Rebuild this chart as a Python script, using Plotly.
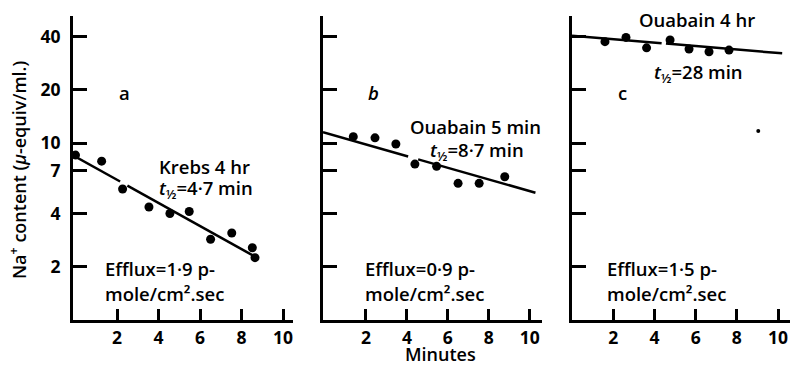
import plotly.graph_objects as go
import math

W, H = 790, 365

# ---- data ----
a_time = [0.0, 1.26, 2.27, 3.54, 4.55, 5.48, 6.51, 7.53, 8.52, 8.65]
a_na = [8.55, 7.9, 5.5, 4.35, 4.0, 4.1, 2.86, 3.1, 2.56, 2.25]
a_fit_time = [-0.1, 2.15, None, 2.5, 8.65]
a_fit_na = [8.5, 6.06, None, 5.75, 2.28]

b_time = [1.38, 2.44, 3.46, 4.39, 5.45, 6.5, 7.53, 8.78]
b_na = [10.86, 10.7, 9.87, 7.6, 7.38, 5.92, 5.92, 6.45]
b_fit_time = [-0.1, 4.06, None, 4.55, 10.28]
b_fit_na = [11.5, 8.39, None, 8.08, 5.24]

c_time = [1.6, 2.62, 3.62, 4.76, 5.68, 6.65, 7.62]
c_na = [37.4, 39.5, 34.5, 38.2, 34.0, 32.8, 33.5]
c_fit_time = [0.0, 4.35, None, 4.56, 10.2]
c_fit_na = [40.4, 36.6, None, 36.5, 32.1]
c_speck_time = [9.04]
c_speck_na = [11.7]

y_ticks = [2, 4, 7, 10, 20, 40]
x_ticks = [2, 4, 6, 8, 10]

FONT = "Open Sans"

def px(x):
    return x / W

def py(y):
    return 1 - y / H

fig = go.Figure()

panels = [
    ("x", "y", a_time, a_na, a_fit_time, a_fit_na),
    ("x2", "y2", b_time, b_na, b_fit_time, b_fit_na),
    ("x3", "y3", c_time, c_na, c_fit_time, c_fit_na),
]
for xa, ya, t, v, ft, fv in panels:
    fig.add_trace(go.Scatter(x=ft, y=fv, mode="lines", xaxis=xa, yaxis=ya, connectgaps=False,
                             line=dict(color="black", width=2.5), showlegend=False))
    fig.add_trace(go.Scatter(x=t, y=v, mode="markers", xaxis=xa, yaxis=ya,
                             marker=dict(color="black", size=9), showlegend=False))
fig.add_trace(go.Scatter(x=c_speck_time, y=c_speck_na, mode="markers", xaxis="x3", yaxis="y3",
                         marker=dict(color="black", size=4), showlegend=False))

ydom = [py(320), py(16)]
yrange = [0, math.log10(52.2)]

xdoms = [[px(73), px(293.4)], [px(323), px(542)], [px(572), 1.0]]
xranges = [[-0.12, 10.5], [-0.1, 10.6], [0, 10.58]]

tickfont = dict(family=FONT, size=17.5, color="black", weight="bold")
common_x = dict(showline=True, linecolor="black", linewidth=3, ticks="inside", ticklen=11,
                tickwidth=2.5, tickcolor="black", tickvals=x_ticks, showgrid=False,
                zeroline=False, tickfont=tickfont, ticklabelstandoff=0)
common_y = dict(type="log", showline=True, linecolor="black", linewidth=3, ticks="inside",
                ticklen=14, tickwidth=2.5, tickcolor="black", tickvals=y_ticks,
                ticktext=[str(v) for v in y_ticks], showgrid=False, zeroline=False,
                range=yrange, domain=ydom, tickfont=tickfont)

layout = dict(width=W, height=H, margin=dict(l=0, r=0, t=0, b=0),
              plot_bgcolor="white", paper_bgcolor="white")
for i, (name_x, name_y) in enumerate([("xaxis", "yaxis"), ("xaxis2", "yaxis2"), ("xaxis3", "yaxis3")]):
    anchor_y = "y" if i == 0 else f"y{i+1}"
    anchor_x = "x" if i == 0 else f"x{i+1}"
    layout[name_x] = dict(common_x, domain=xdoms[i], range=xranges[i], anchor=anchor_y)
    layout[name_y] = dict(common_y, anchor=anchor_x, showticklabels=(i == 0), ticklabelstandoff=6)

fig.update_layout(**layout)

ann = []
def text(s, x, y, anchor="left", size=18.5, italic=False, weight=600):
    ann.append(dict(text=s, x=px(x), y=py(y), xref="paper", yref="paper", xanchor=anchor,
                    yanchor="middle", showarrow=False,
                    font=dict(family=FONT, size=size, color="black", weight=weight,
                              style="italic" if italic else "normal")))

# panel a
text("a", 124, 93, anchor="center")
text("Krebs 4 hr", 157, 166)
text("<i>t</i><sub>½</sub>=4·7 min", 157, 189)
text("Efflux=1·9 p-", 103, 268)
text("mole/cm².sec", 103, 293)
# panel b
text("b", 373, 93, anchor="center", italic=True)
text("Ouabain 5 min", 408, 126)
text("<i>t</i><sub>½</sub>=8·7 min", 428, 151)
text("Efflux=0·9 p-", 363, 268)
text("mole/cm².sec", 363, 293)
# panel c
text("Ouabain 4 hr", 637, 19)
text("<i>t</i><sub>½</sub>=28 min", 652, 73)
text("c", 622, 93, anchor="center")
text("Efflux=1·5 p-", 605, 268)
text("mole/cm².sec", 605, 293)
# axis titles
text("Minutes", 440, 354, anchor="center", size=18)
ann.append(dict(text="Na<sup>+</sup> content (<i>μ</i>-equiv/ml.)", x=px(18), y=py(170),
                xref="paper", yref="paper", xanchor="center", yanchor="middle",
                showarrow=False, textangle=-90,
                font=dict(family=FONT, size=18, color="black", weight=600)))
fig.update_layout(annotations=ann)

fig.write_html("out.html")
